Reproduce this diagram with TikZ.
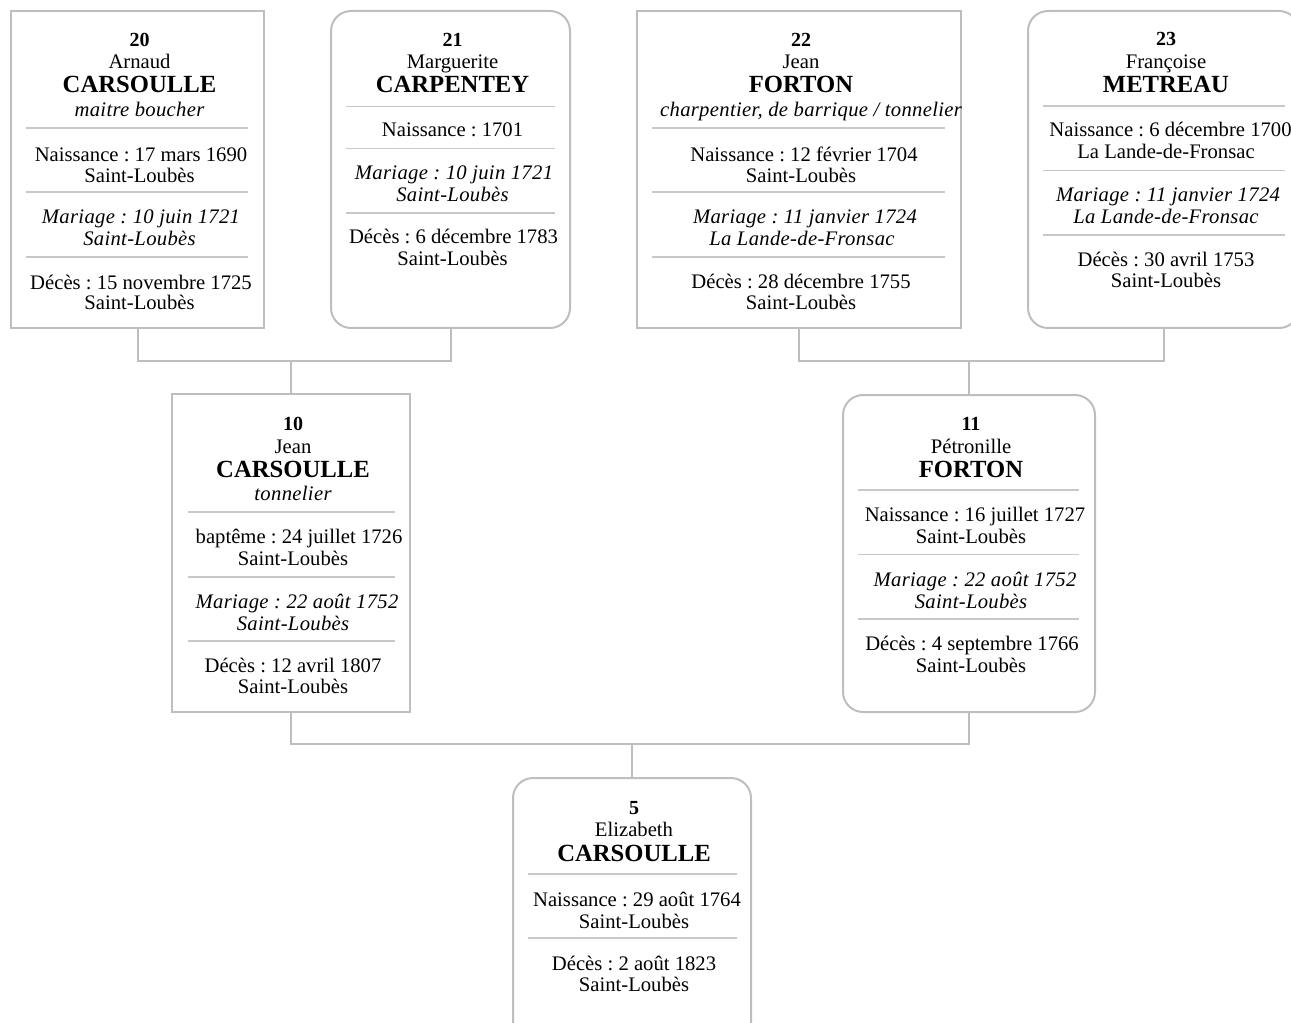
\documentclass[tikz,border=0pt]{standalone}
\usepackage{fontspec}
\setmainfont{Liberation Serif}
\newfontface\itface[LetterSpace=1.5]{Liberation Serif Italic}
\frenchspacing
\definecolor{lgray}{RGB}{190,190,190}
\definecolor{sgray}{RGB}{200,200,200}
\tikzset{
  pbox/.style={draw=lgray, line width=1.5pt, inner sep=0pt, fill=white},
  rbox/.style={pbox, rounded corners=15pt},
  txt/.style={anchor=base, inner sep=0pt, font=\fontsize{15.5}{18}\selectfont},
  num/.style={txt, font=\fontsize{15}{18}\selectfont\bfseries},
  sur/.style={txt, font=\fontsize{18.5}{22}\selectfont\bfseries},
  ita/.style={txt, font=\fontsize{15.5}{18}\selectfont\itface},
  seprule/.style={draw=sgray, line width=0.8pt},
  link/.style={draw=lgray, line width=1.5pt},
}
\newcommand\tline[5][txt]{\node[#1] (#2) at (#3,#4) {#5};}
\newcommand\sline[3]{\draw[seprule] (#1,#3) -- (#2,#3);}
\begin{document}
\begin{tikzpicture}[x=0.75pt,y=-0.75pt]
\useasboundingbox (0,0) rectangle (1291,1023);
% boxes
\node[pbox, minimum width={253*0.75pt}, minimum height={317*0.75pt}] (b20) at (137.5,169.5) {};
\node[rbox, minimum width={239*0.75pt}, minimum height={317*0.75pt}] (b21) at (450.5,169.5) {};
\node[pbox, minimum width={324*0.75pt}, minimum height={317*0.75pt}] (b22) at (799,169.5) {};
\node[rbox, minimum width={271*0.75pt}, minimum height={317*0.75pt}] (b23) at (1163.5,169.5) {};
\node[pbox, minimum width={238*0.75pt}, minimum height={318*0.75pt}] (b10) at (291,553) {};
\node[rbox, minimum width={252*0.75pt}, minimum height={317*0.75pt}] (b11) at (969,553.5) {};
\node[rbox, minimum width={238*0.75pt}, minimum height={317*0.75pt}] (b5) at (632,936.5) {};
% connectors
\coordinate (j1) at (291,361);
\coordinate (j2) at (969,361);
\coordinate (j3) at (632,744);
\draw[link] (b20.south) |- (j1) -| (b21.south);
\draw[link] (j1) -- (b10.north);
\draw[link] (b22.south) |- (j2) -| (b23.south);
\draw[link] (j2) -- (b11.north);
\draw[link] (b10.south) |- (j3) -| (b11.south);
\draw[link] (j3) -- (b5.north);
% box 20
\tline[num]{t20a}{139.5}{46.5}{20}
\tline{t20b}{139.5}{69}{Arnaud}
\tline[sur]{t20c}{139.5}{93}{CARSOULLE}
\tline[ita]{t20d}{139.5}{117}{maitre boucher}
\sline{26}{248}{128}
\tline{t20e}{141}{162}{Naissance : 17 mars 1690}
\tline{t20f}{139.5}{183}{Saint-Loubès}
\sline{26}{248}{192}
\tline[ita]{t20g}{141}{224}{Mariage : 10 juin 1721}
\tline[ita]{t20h}{139.5}{246}{Saint-Loubès}
\sline{26}{248}{257}
\tline{t20i}{141}{290}{Décès : 15 novembre 1725}
\tline{t20j}{139.5}{310}{Saint-Loubès}
% box 21
\tline[num]{t21a}{452.5}{46.5}{21}
\tline{t21b}{452.5}{69}{Marguerite}
\tline[sur]{t21c}{452.5}{93}{CARPENTEY}
\sline{346}{555}{106.5}
\tline{t21d}{452.5}{137}{Naissance : 1701}
\sline{346}{555}{148.5}
\tline[ita]{t21e}{454}{180}{Mariage : 10 juin 1721}
\tline[ita]{t21f}{452.5}{202}{Saint-Loubès}
\sline{346}{555}{213}
\tline{t21g}{453.5}{244}{Décès : 6 décembre 1783}
\tline{t21h}{452.5}{266}{Saint-Loubès}
% box 22
\tline[num]{t22a}{801}{46.5}{22}
\tline{t22b}{801}{69}{Jean}
\tline[sur]{t22c}{801}{93}{FORTON}
\tline[ita]{t22d}{811}{117}{charpentier, de barrique / tonnelier}
\sline{652}{945}{128}
\tline{t22e}{804}{161.5}{Naissance : 12 février 1704}
\tline{t22f}{801}{182.5}{Saint-Loubès}
\sline{652}{945}{192}
\tline[ita]{t22g}{805}{224}{Mariage : 11 janvier 1724}
\tline[ita]{t22h}{802}{245.5}{La Lande-de-Fronsac}
\sline{652}{945}{257}
\tline{t22i}{801}{289}{Décès : 28 décembre 1755}
\tline{t22j}{801}{310}{Saint-Loubès}
% box 23
\tline[num]{t23a}{1166}{46}{23}
\tline{t23b}{1166}{69}{Françoise}
\tline[sur]{t23c}{1166}{93}{METREAU}
\sline{1043}{1285}{106}
\tline{t23d}{1170.5}{137}{Naissance : 6 décembre 1700}
\tline{t23e}{1166}{159}{La Lande-de-Fronsac}
\sline{1043}{1285}{170.5}
\tline[ita]{t23f}{1168}{202}{Mariage : 11 janvier 1724}
\tline[ita]{t23g}{1166}{223.5}{La Lande-de-Fronsac}
\sline{1043}{1285}{235}
\tline{t23h}{1166}{266.5}{Décès : 30 avril 1753}
\tline{t23i}{1166}{288}{Saint-Loubès}
% box 10
\tline[num]{t10a}{293}{430}{10}
\tline{t10b}{293}{453}{Jean}
\tline[sur]{t10c}{293}{477}{CARSOULLE}
\tline[ita]{t10d}{293}{500}{tonnelier}
\sline{188}{395}{512}
\tline{t10e}{299}{543}{baptême : 24 juillet 1726}
\tline{t10f}{293}{565}{Saint-Loubès}
\sline{188}{395}{577}
\tline[ita]{t10g}{297}{608}{Mariage : 22 août 1752}
\tline[ita]{t10h}{293}{630}{Saint-Loubès}
\sline{188}{395}{641}
\tline{t10i}{293}{672}{Décès : 12 avril 1807}
\tline{t10j}{293}{693}{Saint-Loubès}
% box 11
\tline[num]{t11a}{971}{430}{11}
\tline{t11b}{971}{453}{Pétronille}
\tline[sur]{t11c}{971}{477}{FORTON}
\sline{858}{1079}{490}
\tline{t11d}{975}{521}{Naissance : 16 juillet 1727}
\tline{t11e}{971}{543}{Saint-Loubès}
\sline{858}{1079}{554.5}
\tline[ita]{t11f}{975}{586}{Mariage : 22 août 1752}
\tline[ita]{t11g}{971}{608}{Saint-Loubès}
\sline{858}{1079}{619}
\tline{t11h}{972}{650}{Décès : 4 septembre 1766}
\tline{t11i}{971}{672}{Saint-Loubès}
% box 5
\tline[num]{t5a}{634}{814}{5}
\tline{t5b}{634}{836.5}{Elizabeth}
\tline[sur]{t5c}{634}{861}{CARSOULLE}
\sline{528}{737}{874}
\tline{t5d}{637}{906}{Naissance : 29 août 1764}
\tline{t5e}{634}{928}{Saint-Loubès}
\sline{528}{737}{938}
\tline{t5f}{634}{970}{Décès : 2 août 1823}
\tline{t5g}{634}{991.5}{Saint-Loubès}
\end{tikzpicture}
\end{document}
